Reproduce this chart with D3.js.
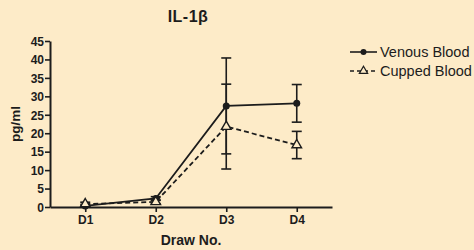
<!DOCTYPE html>
<html>
<head>
<meta charset="utf-8">
<script src="https://cdn.jsdelivr.net/npm/d3@7"></script>
<style>
  html, body { margin: 0; padding: 0; background: #fdebc8; }
  svg { display: block; font-family: "Liberation Sans", Arial, sans-serif; }
</style>
</head>
<body>
<div id="chart"></div>
<script>
const draws = ["D1", "D2", "D3", "D4"];
const venousMean = [0.3, 2.3, 27.4, 28.1];
const venousErr = [0.4, 0.5, 13.0, 5.1];
const cuppedMean = [0.8, 1.4, 21.8, 16.8];
const cuppedErr = [0.5, 0.5, 11.5, 3.7];
const yTicks = [0, 5, 10, 15, 20, 25, 30, 35, 40, 45];

const width = 474, height = 250;
const margin = { top: 41, right: 142, bottom: 43, left: 50 };
const ink = "#1c1c1c";

const svg = d3.select("#chart").append("svg")
  .attr("width", width)
  .attr("height", height);

const x = d3.scalePoint()
  .domain(draws)
  .range([margin.left, width - margin.right])
  .padding(0.5);

const y = d3.scaleLinear()
  .domain([0, 45])
  .range([height - margin.bottom, margin.top]);

// axes
const xAxis = svg.append("g")
  .attr("transform", `translate(0,${height - margin.bottom})`)
  .call(d3.axisBottom(x).tickSize(5).tickSizeOuter(0));
const yAxis = svg.append("g")
  .attr("transform", `translate(${margin.left},0)`)
  .call(d3.axisLeft(y).tickValues(yTicks).tickSize(5).tickSizeOuter(0));

[xAxis, yAxis].forEach(g => {
  g.select(".domain").attr("stroke", ink).attr("stroke-width", 2);
  g.selectAll(".tick line").attr("stroke", ink).attr("stroke-width", 1.6);
  g.selectAll(".tick text")
    .attr("fill", ink)
    .attr("font-size", 12)
    .attr("font-weight", "bold")
    .attr("font-family", "Liberation Sans, Arial, sans-serif");
});
yAxis.selectAll(".tick text").attr("x", -6).attr("dy", "0.36em");
xAxis.selectAll(".tick text").attr("y", 8);

// title and axis labels
svg.append("text")
  .attr("x", 188)
  .attr("y", 22)
  .attr("text-anchor", "middle")
  .attr("font-size", 16)
  .attr("font-weight", "bold")
  .attr("letter-spacing", 0.5)
  .attr("fill", ink)
  .text("IL-1β");

svg.append("text")
  .attr("x", (margin.left + width - margin.right) / 2)
  .attr("y", 245)
  .attr("text-anchor", "middle")
  .attr("font-size", 14)
  .attr("font-weight", "bold")
  .attr("fill", ink)
  .text("Draw No.");

svg.append("text")
  .attr("transform", `translate(20,${(margin.top + height - margin.bottom) / 2}) rotate(-90)`)
  .attr("text-anchor", "middle")
  .attr("font-size", 13.5)
  .attr("font-weight", "bold")
  .attr("fill", ink)
  .text("pg/ml");

const series = [
  { name: "Venous Blood", mean: venousMean, err: venousErr, dash: null, marker: "circle" },
  { name: "Cupped Blood", mean: cuppedMean, err: cuppedErr, dash: "5,3", marker: "triangle" }
];

const line = d3.line()
  .x((d, i) => x(draws[i]))
  .y(d => y(d));

const tri = d3.symbol().type(d3.symbolTriangle).size(40);

series.forEach(s => {
  const g = svg.append("g");
  // error bars
  s.mean.forEach((m, i) => {
    const cx = x(draws[i]);
    const hi = y(m + s.err[i]), lo = y(Math.max(0, m - s.err[i]));
    g.append("line").attr("x1", cx).attr("x2", cx).attr("y1", hi).attr("y2", lo)
      .attr("stroke", ink).attr("stroke-width", 1.6);
    [hi, lo].forEach(yy => g.append("line")
      .attr("x1", cx - 5).attr("x2", cx + 5).attr("y1", yy).attr("y2", yy)
      .attr("stroke", ink).attr("stroke-width", 1.6));
  });
  g.append("path")
    .datum(s.mean)
    .attr("fill", "none")
    .attr("stroke", ink)
    .attr("stroke-width", 1.8)
    .attr("stroke-dasharray", s.dash)
    .attr("d", line);
  s.mean.forEach((m, i) => {
    if (s.marker === "circle") {
      g.append("circle").attr("cx", x(draws[i])).attr("cy", y(m)).attr("r", 3.5).attr("fill", ink);
    } else {
      g.append("path").attr("d", tri)
        .attr("transform", `translate(${x(draws[i])},${y(m)})`)
        .attr("fill", "#fdebc8").attr("stroke", ink).attr("stroke-width", 1.4);
    }
  });
});

// legend
const legend = svg.append("g");
series.forEach((s, i) => {
  const ly = 52 + i * 19;
  legend.append("line")
    .attr("x1", 350).attr("x2", 377).attr("y1", ly).attr("y2", ly)
    .attr("stroke", ink).attr("stroke-width", 1.6)
    .attr("stroke-dasharray", s.dash ? "4,3" : null);
  if (s.marker === "circle") {
    legend.append("circle").attr("cx", 363.5).attr("cy", ly).attr("r", 3).attr("fill", ink);
  } else {
    legend.append("path").attr("d", d3.symbol().type(d3.symbolTriangle).size(30))
      .attr("transform", `translate(363.5,${ly})`)
      .attr("fill", "#fdebc8").attr("stroke", ink).attr("stroke-width", 1.2);
  }
  legend.append("text")
    .attr("x", 380).attr("y", ly).attr("dy", "0.35em")
    .attr("font-size", 14.5)
    .attr("fill", ink)
    .text(s.name);
});
</script>
</body>
</html>
